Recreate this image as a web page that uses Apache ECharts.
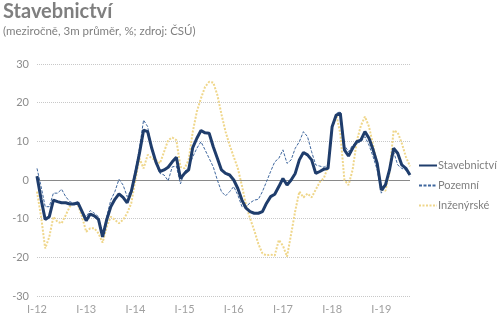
<!DOCTYPE html>
<html><head><meta charset="utf-8">
<script src="https://cdn.jsdelivr.net/npm/echarts@6/dist/echarts.min.js"></script>
<style>html,body{margin:0;padding:0;background:#fff}#c{width:500px;height:326px}</style>
</head><body><div id="c"></div>
<script>
const tickLabels = ['I-12','I-13','I-14','I-15','I-16','I-17','I-18','I-19'];
const seriesNames = ['Stavebnictví','Pozemní','Inženýrské'];
const stavebnictvi = [1,-5,-10.2,-9.5,-5.2,-5.6,-5.9,-5.9,-6.2,-6.2,-5.9,-8.2,
 -10.5,-8.8,-9.3,-10.2,-14.7,-10.3,-6.9,-5.0,-3.6,-4.5,-5.9,-3.0,
 1.7,6.9,12.9,12.5,8.2,4.7,2.2,2.6,3.3,4.7,5.9,0.4,
 1.7,2.6,8.4,10.8,12.8,12.2,12.1,8.6,5.6,2.6,1.7,1.3,
 0,-2.2,-5.2,-7.3,-8.2,-8.6,-8.6,-8.2,-6.0,-4.3,-3.7,-1.7,
 0.4,-1.3,0,1.7,5.2,7.1,6.5,5.2,1.7,2.2,2.8,3.0,
 13.8,16.8,17.2,7.8,6.2,8.2,9.9,10.3,12.5,10.8,7.8,4.3,
 -2.6,-1.3,2.6,8.2,6.9,3.9,3.0,1.3];
const pozemni = [3.0,-1.7,-6.9,-6.9,-3.4,-3.4,-2.4,-4.3,-5.6,-6,-6,-8.6,
 -9.5,-7.9,-8.6,-9.5,-13.8,-9.5,-5.2,-3.0,0.2,-1.3,-4.3,-2.6,
 2.6,8.2,15.5,13.8,7.8,4.3,1.7,1.3,-0.2,3.4,3.6,-1.0,
 2.2,3.3,6.0,8.2,9.9,7.8,5.6,3.4,0,-3.0,-4.1,-3.0,
 -1.7,-3.9,-6.9,-6.9,-5.9,-5.2,-5.0,-3.0,-0.4,2.2,4.7,5.6,
 7.8,4.3,5.2,8.2,9.9,12.5,11.2,7.3,3.9,3.6,3.3,3.9,
 13.4,17.2,17.7,9.0,7.3,9.0,9.5,9.9,11.2,9.0,6.0,2.6,
 -3.4,-1.7,2.6,7.3,3.9,3.0,2.6,0.9];
const inzenyrske = [-3.0,-9.5,-17.7,-14.7,-9.5,-10.8,-11.2,-9.1,-6.9,-6.0,-6.5,-9.5,
 -13.4,-12.5,-12.5,-13.8,-16.2,-12.1,-9.5,-10.3,-11.2,-10.3,-8.6,-6.0,
 0,5.6,3.0,6.5,5.6,5.2,4.3,7.3,10.3,11.0,10.3,3.4,
 3.0,5.2,12.5,17.7,21.1,24.1,25.4,25.2,22,17,12.5,9,
 6,3,-1.5,-6.5,-10,-13,-16.5,-19,-19.5,-19.3,-19.5,-15.5,
 -17,-19.8,-14,-8,-3,-4.5,-3.5,-4.5,-2.5,-0.5,0.5,3.5,
 13.5,17,12,0,-1.3,2.6,10,14,16.4,13.8,9,4,
 -2.5,-2.8,2,12.8,12.3,9.5,6,3.5];
const yMin = -30, yMax = 30, yStep = 10;

// category per month, labelled only in January
const categories = [];
for (let i = 0; i < stavebnictvi.length; i++) {
  categories.push(i % 12 === 0 ? tickLabels[i / 12] : '');
}

const font = 'Lato, "Open Sans", sans-serif';
const chart = echarts.init(document.getElementById('c'), null, {renderer: 'canvas'});
chart.setOption({
  animation: false,
  backgroundColor: '#fff',
  textStyle: {fontFamily: font},
  title: {
    text: 'Stavebnictví',
    subtext: '(meziročně, 3m průměr, %; zdroj: ČSÚ)',
    left: 3, top: 2, padding: 0, itemGap: 3,
    textStyle: {fontFamily: font, fontSize: 20, fontWeight: 'bold', color: '#7f7f7f'},
    subtextStyle: {fontFamily: font, fontSize: 11.5, color: '#7f7f7f'}
  },
  legend: {
    orient: 'vertical', left: 418, top: 160, padding: 0, width: 82,
    itemWidth: 18, itemHeight: 10, itemGap: 9,
    itemStyle: {opacity: 0},
    textStyle: {fontFamily: font, fontSize: 11, color: '#7f7f7f', padding: [0,0,0,-4], overflow: 'none'},
    data: seriesNames
  },
  grid: {left: 37, right: 90, top: 64, bottom: 30, containLabel: false},
  xAxis: {
    type: 'category', data: categories, boundaryGap: false,
    axisLine: {show: false}, axisTick: {show: false},
    axisLabel: {interval: 0, color: '#a0a0a0', fontSize: 11, margin: 8, fontFamily: font},
    splitLine: {show: false}
  },
  yAxis: {
    type: 'value', min: yMin, max: yMax, interval: yStep,
    axisLine: {show: false}, axisTick: {show: false},
    axisLabel: {color: '#8c8c8c', fontSize: 11, margin: 8, fontFamily: font},
    splitLine: {lineStyle: {color: '#c8c8c8', type: [1, 1], width: 1}}
  },
  series: [
    {
      name: seriesNames[1], type: 'line', data: pozemni, symbol: 'none', z: 3,
      lineStyle: {color: '#3f679e', width: 1, type: [3, 1.5]},
      itemStyle: {color: '#3f679e'}
    },
    {
      name: seriesNames[2], type: 'line', data: inzenyrske, symbol: 'none', z: 2,
      lineStyle: {color: '#efd68a', width: 2, type: [2, 1.5]},
      itemStyle: {color: '#efd68a'}
    },
    {
      name: seriesNames[0], type: 'line', data: stavebnictvi, symbol: 'none', z: 4,
      lineStyle: {color: '#1f3d6c', width: 3},
      itemStyle: {color: '#1f3d6c'},
      markLine: {
        silent: true, symbol: 'none', label: {show: false},
        lineStyle: {color: '#8a8a8a', width: 1, type: 'solid'},
        data: [{yAxis: 0}], z: 1
      }
    }
  ]
});
</script></body></html>
